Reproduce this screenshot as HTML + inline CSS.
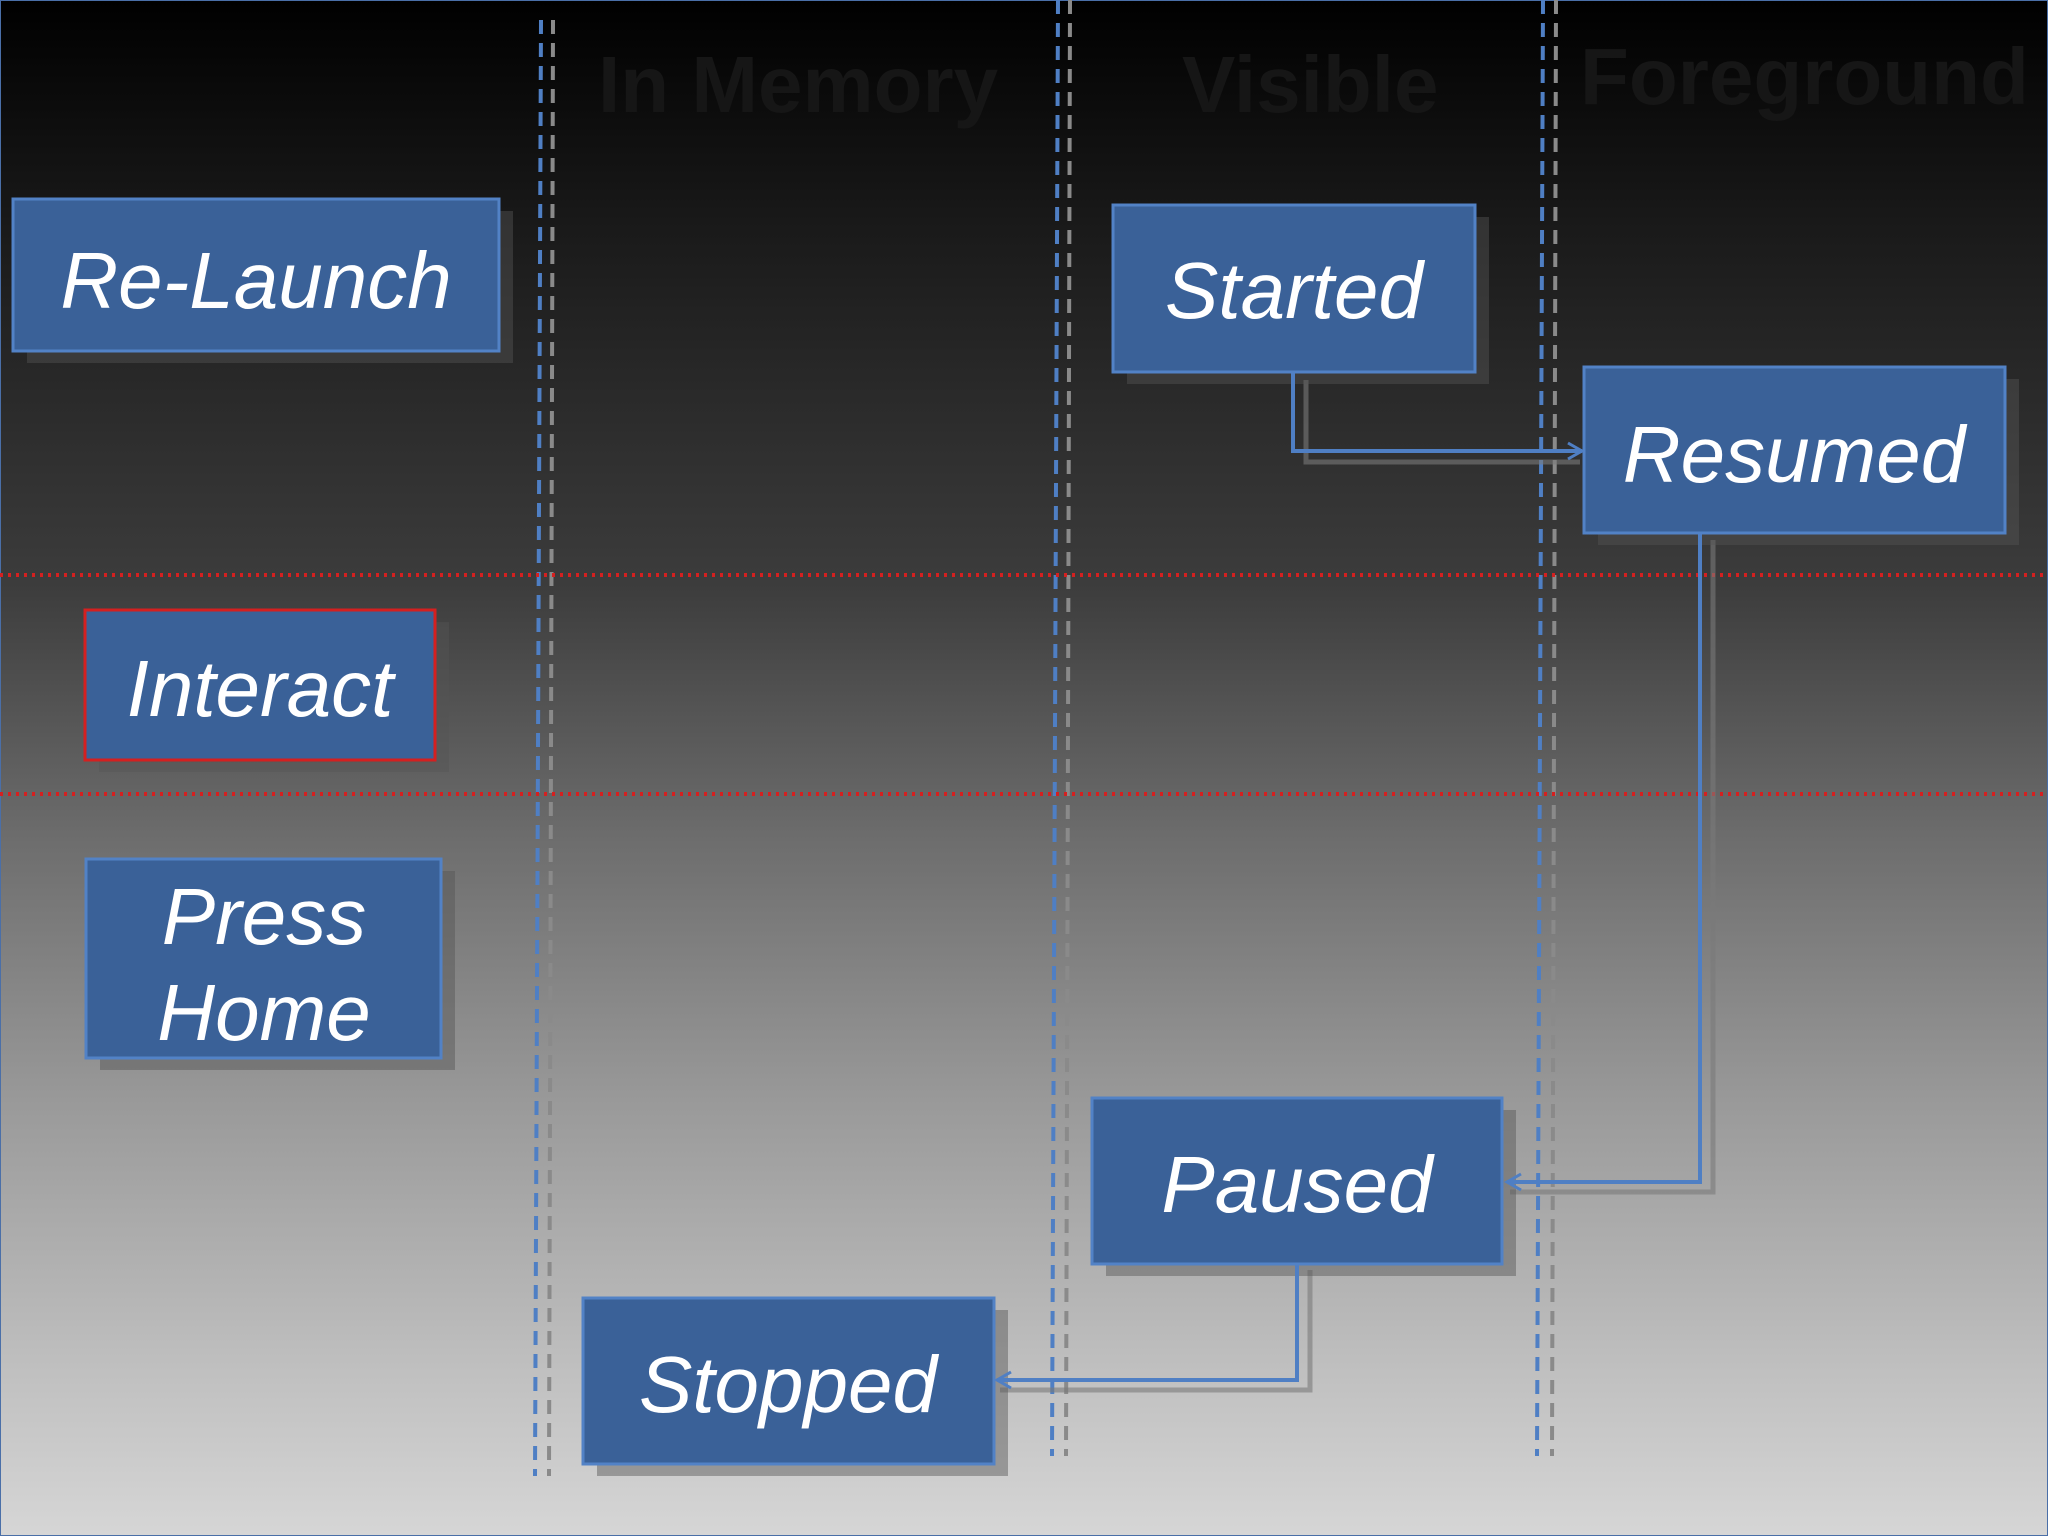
<!DOCTYPE html>
<html><head><meta charset="utf-8"><style>
html,body{margin:0;padding:0;}
body{width:2048px;height:1536px;overflow:hidden;background:linear-gradient(to bottom,#000 0%,#1a1a1a 15%,#3c3c3c 38%,#6e6e6e 55%,#9a9a9a 72%,#bdbdbd 88%,#d6d6d6 100%);}
svg{position:absolute;left:0;top:0;}
</style></head><body>
<svg width="2048" height="1536" viewBox="0 0 2048 1536" xmlns="http://www.w3.org/2000/svg">
<defs>
<marker id="ar" markerWidth="20" markerHeight="20" refX="16" refY="10" orient="auto" markerUnits="userSpaceOnUse">
<path d="M2,2 L16,10 L2,18" fill="none" stroke="#4f7fc4" stroke-width="3"/>
</marker>
</defs>
<rect x="0" y="0" width="2048" height="1536" fill="none" stroke="#4a6fa8" stroke-width="2"/>
<!-- headers -->
<g font-family="Liberation Sans, sans-serif" font-weight="bold" font-size="80" fill="#161616">
<text x="598" y="112">In Memory</text>
<text x="1182" y="112">Visible</text>
<text x="1580" y="104">Foreground</text>
</g>
<!-- vertical dashed lines -->
<g stroke-width="4" stroke-dasharray="14,9" fill="none">
<line x1="541" y1="20" x2="535" y2="1476" stroke="#4f7fc4"/>
<line x1="553" y1="20" x2="549" y2="1476" stroke="#8a8a8a"/>
<line x1="1058" y1="0" x2="1052" y2="1456" stroke="#4f7fc4"/>
<line x1="1070" y1="0" x2="1066" y2="1456" stroke="#8a8a8a"/>
<line x1="1543" y1="0" x2="1537" y2="1456" stroke="#4f7fc4"/>
<line x1="1556" y1="0" x2="1552" y2="1456" stroke="#8a8a8a"/>
</g>
<!-- red dotted -->
<g stroke="#d42020" stroke-width="4" stroke-dasharray="3,5">
<line x1="0" y1="575" x2="2048" y2="575"/>
<line x1="0" y1="794" x2="2048" y2="794"/>
</g>
<!-- connector shadows -->
<g stroke="#7a7a7a" stroke-width="5" fill="none" opacity="0.6">
<polyline points="1306,380 1306,462 1580,462"/>
<polyline points="1713,540 1713,1192 1510,1192"/>
<polyline points="1310,1270 1310,1390 1000,1390"/>
</g>
<!-- boxes shadows -->
<g fill="#555" opacity="0.45">
<rect x="27" y="211" width="486" height="152"/>
<rect x="99" y="622" width="350" height="150"/>
<rect x="100" y="871" width="355" height="199"/>
<rect x="1127" y="217" width="362" height="167"/>
<rect x="1598" y="379" width="421" height="166"/>
<rect x="1106" y="1110" width="410" height="166"/>
<rect x="597" y="1310" width="411" height="166"/>
</g>
<!-- connectors -->
<g stroke="#4f7fc4" stroke-width="4" fill="none">
<polyline points="1293,372 1293,451 1582,451" marker-end="url(#ar)"/>
<polyline points="1700,533 1700,1182 1507,1182" marker-end="url(#ar)"/>
<polyline points="1297,1264 1297,1380 997,1380" marker-end="url(#ar)"/>
</g>
<!-- boxes -->
<g fill="#3a6198" stroke="#5282c6" stroke-width="3">
<rect x="13" y="199" width="486" height="152"/>
<rect x="85" y="610" width="350" height="150" stroke="#d42020"/>
<rect x="86" y="859" width="355" height="199"/>
<rect x="1113" y="205" width="362" height="167"/>
<rect x="1584" y="367" width="421" height="166"/>
<rect x="1092" y="1098" width="410" height="166"/>
<rect x="583" y="1298" width="411" height="166"/>
</g>
<g font-family="Liberation Sans, sans-serif" font-style="italic" font-size="80" fill="#ffffff" text-anchor="middle">
<text x="256" y="308">Re-Launch</text>
<text x="260" y="716">Interact</text>
<text x="264" y="944">Press</text>
<text x="264" y="1040">Home</text>
<text x="1294" y="318">Started</text>
<text x="1794" y="482">Resumed</text>
<text x="1297" y="1212">Paused</text>
<text x="788" y="1412">Stopped</text>
</g>
</svg>
</body></html>
